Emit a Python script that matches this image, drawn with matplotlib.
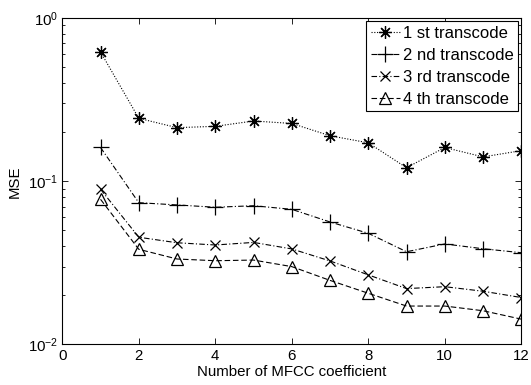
import matplotlib
matplotlib.use("Agg")
import matplotlib.pyplot as plt
from matplotlib.ticker import LogLocator, FixedLocator

plt.rcParams['font.family'] = ['Liberation Sans', 'DejaVu Sans']
plt.rcParams['mathtext.default'] = 'regular'
plt.rcParams['mathtext.fontset'] = 'custom'
plt.rcParams['mathtext.rm'] = 'Liberation Sans'

coeffs = [1, 2, 3, 4, 5, 6, 7, 8, 9, 10, 11, 12]
mse_1st = [0.62, 0.243, 0.213, 0.217, 0.234, 0.226, 0.190, 0.172, 0.121, 0.161, 0.141, 0.154]
mse_2nd = [0.161, 0.0739, 0.0716, 0.0693, 0.0708, 0.0673, 0.0563, 0.048, 0.0370, 0.0413, 0.0386, 0.0365]
mse_3rd = [0.0893, 0.0454, 0.0420, 0.0407, 0.0422, 0.0385, 0.0325, 0.0267, 0.0220, 0.0226, 0.0212, 0.0194]
mse_4th = [0.0775, 0.0383, 0.0334, 0.0326, 0.0329, 0.0300, 0.0247, 0.0206, 0.0172, 0.0172, 0.0161, 0.0143]
labels = ['1 st transcode', '2 nd transcode', '3 rd transcode', '4 th transcode']
x_ticks = [0, 2, 4, 6, 8, 10, 12]

fig = plt.figure(figsize=(5.31, 3.85), dpi=100)
ax = fig.add_axes([0.1173, 0.1052, 0.8644, 0.848])

lw = 0.8
ax.plot(coeffs, mse_1st, color='k', linestyle=(0, (1, 1.5)), linewidth=lw,
        marker=(8, 2, 0), markersize=9, markeredgewidth=0.9, label=labels[0])
ax.plot(coeffs, mse_2nd, color='k', linestyle=(0, (5, 2, 1, 2)), linewidth=lw,
        marker='+', markersize=11, markeredgewidth=0.9, label=labels[1])
ax.plot(coeffs, mse_3rd, color='k', linestyle=(0, (5, 2, 1, 2)), linewidth=lw,
        marker='x', markersize=7, markeredgewidth=0.9, label=labels[2])
ax.plot(coeffs, mse_4th, color='k', linestyle=(0, (5, 2.5)), linewidth=lw,
        marker='^', markersize=9, markerfacecolor='none', markeredgewidth=0.9,
        label=labels[3])

ax.set_yscale('log')
ax.set_xlim(0, 12)
ax.set_ylim(1e-2, 1e0)
ax.xaxis.set_major_locator(FixedLocator(x_ticks))
ax.yaxis.set_major_locator(LogLocator(base=10, numticks=5))
ax.yaxis.set_minor_locator(LogLocator(base=10, subs=range(2, 10), numticks=20))

ax.tick_params(which='both', direction='in', top=True, right=True,
               labelsize=10.8, width=0.6, pad=3)
ax.tick_params(which='major', length=4)
ax.tick_params(which='minor', length=2.5)
for s in ax.spines.values():
    s.set_linewidth(0.8)

ax.set_xlabel('Number of MFCC coefficient', fontsize=10.8, labelpad=2)
ax.set_ylabel('MSE', fontsize=10.8, labelpad=4)

leg = ax.legend(loc='upper right', fontsize=12, frameon=True, fancybox=False,
                edgecolor='k', framealpha=1, handlelength=1.75,
                handletextpad=0.2, borderpad=0.25, labelspacing=0.42,
                borderaxespad=0.2)
leg.get_frame().set_linewidth(0.8)

fig.savefig('out.png', dpi=100)
